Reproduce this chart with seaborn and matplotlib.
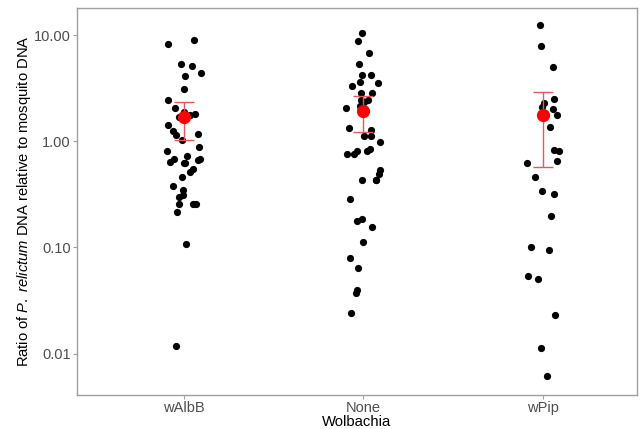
import numpy as np
import pandas as pd
import matplotlib
matplotlib.use("Agg")
import matplotlib.pyplot as plt
import seaborn as sns
from matplotlib.ticker import FixedLocator, FormatStrFormatter, NullLocator

# ratio of P. relictum DNA to mosquito DNA, per mosquito
walbb = [8.35, 9.03, 5.30, 5.08, 4.36, 4.14, 3.10, 2.45, 2.06, 1.91, 1.78, 1.81,
         1.68, 1.42, 1.15, 1.18, 1.24, 1.02, 0.89, 0.82, 0.72, 0.68, 0.68, 0.62,
         0.67, 0.64, 0.62, 0.55, 0.51, 0.46, 0.38, 0.35, 0.30, 0.31, 0.257, 0.257,
         0.257, 0.215, 0.107, 0.0119]
none = [10.4, 8.9, 6.77, 5.37, 4.2, 4.18, 3.64, 3.55, 3.29, 2.83, 2.83, 2.43,
        2.43, 2.36, 2.15, 2.04, 1.33, 1.28, 1.12, 1.12, 0.99, 0.84, 0.76, 0.82,
        0.81, 0.76, 0.54, 0.49, 0.43, 0.435, 0.435, 0.286, 0.177, 0.186, 0.155,
        0.113, 0.079, 0.064, 0.040, 0.037, 0.024]
wpip = [12.6, 8.0, 4.97, 2.52, 2.29, 2.13, 2.03, 1.77, 1.36, 0.83, 0.82, 0.62,
        0.65, 0.46, 0.34, 0.32, 0.20, 0.101, 0.095, 0.054, 0.050, 0.023, 0.0112,
        0.0061]

groups = ["wAlbB", "None", "wPip"]
means = [1.68, 1.93, 1.76]
lower = [1.03, 1.22, 0.577]
upper = [2.33, 2.65, 2.93]

df = pd.DataFrame({
    "Wolbachia": ["wAlbB"] * len(walbb) + ["None"] * len(none) + ["wPip"] * len(wpip),
    "ratio": walbb + none + wpip,
})

sns.set_style("white")
plt.rcParams["font.family"] = ["Liberation Sans", "DejaVu Sans"]
plt.rcParams["mathtext.fontset"] = "custom"
plt.rcParams["mathtext.rm"] = "Liberation Sans"
plt.rcParams["mathtext.it"] = "Liberation Sans:italic"

fig = plt.figure(figsize=(6.4, 4.29), dpi=100)
ax = fig.add_axes([0.120, 0.080, 0.875, 0.901])

np.random.seed(7)
sns.stripplot(data=df, x="Wolbachia", y="ratio", order=groups, jitter=0.1,
              color="black", size=5.2, linewidth=0, ax=ax, zorder=2)

xpos = np.arange(len(groups))
m = np.array(means)
ax.errorbar(xpos, m, yerr=[m - np.array(lower), np.array(upper) - m], fmt="none",
            ecolor="#e8575a", elinewidth=1, capsize=7, capthick=1, zorder=3)
ax.plot(xpos, m, "o", color="red", markersize=8.5, zorder=4)

ax.set_yscale("log")
ax.set_ylim(0.0041, 18)
ax.set_xlim(-0.594, 2.52)
ax.yaxis.set_major_locator(FixedLocator([0.01, 0.1, 1, 10]))
ax.yaxis.set_major_formatter(FormatStrFormatter("%.2f"))
ax.yaxis.set_minor_locator(NullLocator())

ax.set_ylabel(r"Ratio of $\it{P.\ relictum}$ DNA relative to mosquito DNA",
              fontsize=10.6, color="black", labelpad=0.5)
ax.set_xlabel("Wolbachia", fontsize=10.7, color="black", labelpad=0)
ax.tick_params(axis="both", which="major", labelsize=10.5, labelcolor="#4d4d4d",
               color="#a0a0a0", length=3, width=0.8, direction="out",
               left=True, bottom=True, pad=1.5)
for s in ax.spines.values():
    s.set_color("#a0a0a0")
    s.set_linewidth(1)

plt.savefig("out.png", dpi=100)
plt.close()
